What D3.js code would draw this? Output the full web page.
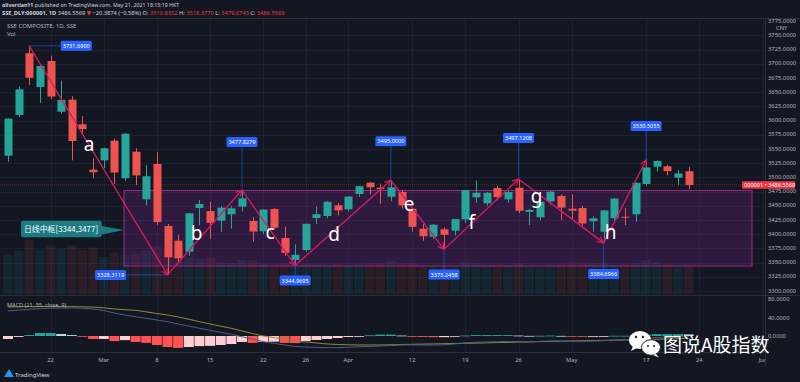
<!DOCTYPE html>
<html><head><meta charset="utf-8">
<script src="https://cdn.jsdelivr.net/npm/d3@7"></script>
<style>html,body{margin:0;padding:0;background:#131722;overflow:hidden}</style>
</head><body><svg id="c" width="800" height="382"></svg>
<script>
// ---------------- data ----------------
const dates = ["2021-02-09","2021-02-10","2021-02-18","2021-02-19","2021-02-22","2021-02-23","2021-02-24","2021-02-25","2021-02-26",
"2021-03-01","2021-03-02","2021-03-03","2021-03-04","2021-03-05","2021-03-08","2021-03-09","2021-03-10","2021-03-11","2021-03-12",
"2021-03-15","2021-03-16","2021-03-17","2021-03-18","2021-03-19","2021-03-22","2021-03-23","2021-03-24","2021-03-25","2021-03-26",
"2021-03-29","2021-03-30","2021-03-31","2021-04-01","2021-04-02","2021-04-06","2021-04-07","2021-04-08","2021-04-09",
"2021-04-12","2021-04-13","2021-04-14","2021-04-15","2021-04-16","2021-04-19","2021-04-20","2021-04-21","2021-04-22","2021-04-23",
"2021-04-26","2021-04-27","2021-04-28","2021-04-29","2021-04-30","2021-05-06","2021-05-07","2021-05-10","2021-05-11","2021-05-12",
"2021-05-13","2021-05-14","2021-05-17","2021-05-18","2021-05-19","2021-05-20","2021-05-21"];
const openP  = [3538.2,3610.0,3718.5,3659.2,3704.9,3615.7,3636.8,3593.5,3513.6,3530.1,3564.6,3498.4,3545.3,3461.4,3523.6,3414.4,3388.6,3369.2,3446.1,
3440.8,3423.8,3435.0,3448.4,3423.2,3405.1,3444.4,3393.3,3354.6,3372.2,3428.5,3432.0,3450.9,3443.8,3470.8,3490.7,3481.9,3466.0,3474.3,
3444.9,3409.7,3395.6,3408.6,3406.2,3426.2,3465.0,3454.4,3481.3,3461.4,3481.9,3439.1,3429.8,3457.9,3467.3,3444.9,3446.1,3422.7,3404.4,3428.0,
3430.8,3435.0,3488.4,3518.8,3519.5,3499.5,3510.84];
const highP  = [3604.0,3659.7,3731.69,3699.0,3714.3,3670.3,3642.8,3608.1,3533.6,3552.5,3568.0,3578.0,3551.2,3521.8,3544.2,3418.0,3398.6,3437.0,3460.0,
3457.2,3450.0,3450.0,3477.83,3430.0,3444.0,3446.0,3413.2,3382.2,3419.0,3448.4,3458.0,3455.0,3467.0,3485.0,3492.0,3489.0,3495.0,3478.0,
3446.0,3418.0,3418.0,3412.0,3427.0,3478.0,3494.2,3474.0,3485.0,3476.0,3497.12,3445.0,3458.0,3476.0,3470.0,3470.8,3450.0,3431.0,3442.0,3464.0,
3446.1,3491.0,3530.51,3530.0,3522.0,3513.0,3518.38];
const lowP   = [3527.6,3606.0,3662.7,3631.0,3638.0,3612.0,3530.1,3574.6,3498.4,3516.0,3488.4,3494.0,3486.6,3451.4,3416.0,3328.31,3352.0,3362.0,3416.2,
3391.5,3404.4,3410.0,3440.0,3386.8,3400.0,3408.0,3362.0,3344.97,3369.0,3418.0,3428.0,3433.0,3440.0,3466.0,3470.0,3453.2,3458.0,3445.0,
3404.4,3388.6,3392.0,3373.25,3398.0,3420.0,3455.0,3450.0,3460.0,3455.0,3437.0,3416.2,3424.0,3452.0,3425.0,3425.0,3415.0,3404.4,3384.70,3424.0,
3416.2,3422.0,3485.0,3510.0,3504.0,3486.6,3479.67];
const closeP = [3603.5,3655.1,3675.4,3696.2,3642.4,3636.4,3564.1,3585.1,3509.1,3551.4,3508.6,3576.9,3503.5,3502.0,3421.4,3359.3,3357.7,3436.8,3453.1,
3420.0,3446.7,3445.6,3463.1,3404.7,3443.4,3411.5,3367.1,3363.6,3418.3,3435.3,3457.1,3441.9,3466.3,3484.4,3482.5,3479.6,3482.6,3450.7,
3413.0,3396.5,3416.6,3399.0,3426.6,3477.6,3472.9,3472.9,3465.1,3474.2,3441.2,3442.6,3457.1,3474.9,3446.9,3441.3,3418.9,3428.0,3441.9,3462.8,
3429.5,3490.4,3517.6,3529.0,3511.0,3506.9,3486.56];
const volume = [380,420,520,430,470,440,470,430,450,360,400,380,390,420,460,430,370,360,340,350,310,300,330,330,290,280,300,290,300,
290,280,290,280,290,300,300,320,300,300,270,270,270,260,310,300,280,280,280,300,270,260,280,290,310,310,300,310,280,290,300,330,310,290,260,280];
const histogram = [-6.5,-2,2,6.5,6.5,4.4,2,-1,-6.5,-6.5,-11,-9,-13,-15,-19.6,-24,-26,-24,-22,-21.5,-19.6,-17.5,-13,-15,-13,-12.5,-15,-15.5,-11,-8.7,
-6.5,-4.4,-2.2,-1,1.5,3,3,1,-1,-2,-2.5,-2.5,-1,1,2,2,2,2,1,0.3,0.5,1,0.3,-0.5,-1,-1,-0.5,0.5,0.5,1.5,3,4,4,4,3.5];
const signalLine = [63.2,63.6,64,64.2,64.3,64.2,64,63.6,63,61.5,58.8,57.3,56,52.7,49,45.8,41.4,36.6,31.2,26.2,21.4,16.8,10.9,5.4,0,-3.3,-6.5,-10.9,-13.1,-15.3,
-17.4,-18.5,-19.2,-19.6,-19.6,-19.6,-19.2,-18.5,-18.1,-17.7,-17.2,-16.8,-16.3,-15.9,-15.5,-15,-14.4,-13.9,-13.3,-12.9,-12.2,-11.8,-11.3,-10.9,-10.5,-10,-9.6,-9.2,-8.7,-8.3,-7.8,-7.2,-6.5,-5.9,-5.2];
const macdLine = [54.5,56.7,58.2,59.5,60.4,61,61,60.4,58.8,55.6,50.1,45.8,42.1,38.6,34.9,31.2,26.2,21.8,16.8,12.4,8.1,3.7,-1.7,-6.5,-12.4,-15.9,-19.6,-22.7,-24,-24.8,
-25.5,-25.3,-24.6,-23.5,-22.7,-21.8,-20.7,-19.6,-19.1,-19.7,-19.7,-19.3,-17.3,-14.9,-13.5,-13,-12.4,-11.9,-12.3,-12.6,-11.7,-10.8,-11,-11.4,-11.5,-11,-10.1,-8.7,-8.2,-6.8,-4.8,-3.2,-2.5,-1.9,-1.7];
const priceTicks = [3300,3325,3350,3375,3400,3425,3450,3475,3500,3525,3550,3575,3600,3625,3650,3675,3700,3725,3750,3775];
const macdTicks = [0,40,80];
const timeTickIdx = [4,9,14,19,24,28,32,38,43,48,53,60,65,71];
const timeTickLabels = ["22","Mar","8","15","22","26","Apr","12","19","26","May","17","24","Jun"];
const pivotIdx = [2,15,22,27,36,41,48,56,60];
const pivotVal = [3731.69,3328.3119,3477.8279,3344.9695,3495.0,3373.2458,3497.1208,3384.6966,3530.5055];
const waveLabels = ["a","b","c","d","e","f","g","h"];
const zoneLow = 3344, zoneHigh = 3477;
const lastPrice = 3486.5569;

// ---------------- layout ----------------
const svg = d3.select("#c");
const BG="#131722", GRID="#1c2030", AX="#b2b5be", UP="#26a69a", DN="#ef5350";
const paneR = 765;
const x = d3.scaleLinear().domain([0,64]).range([8,688.7]);
const y = d3.scaleLinear().domain([3300,3750]).range([291,35.4]);
const yv = d3.scaleLinear().domain([0,600]).range([294,232]);
const ym = d3.scaleLinear().domain([0,80]).range([336,299.3]);
const F = "'Noto Sans','DejaVu Sans',sans-serif";

svg.append("rect").attr("width",800).attr("height",382).attr("fill",BG);
const defs = svg.append("defs");
defs.append("clipPath").attr("id","mainClip").append("rect").attr("x",0).attr("y",18).attr("width",paneR).attr("height",277);
defs.append("clipPath").attr("id","macdClip").append("rect").attr("x",0).attr("y",296).attr("width",paneR).attr("height",56);
defs.append("clipPath").attr("id","timeClip").append("rect").attr("x",0).attr("y",352).attr("width",paneR).attr("height",14);
defs.append("marker").attr("id","arr").attr("viewBox","0 0 10 10").attr("refX",9).attr("refY",5)
  .attr("markerWidth",6).attr("markerHeight",6).attr("orient","auto")
  .append("path").attr("d","M1,1 L9,5 L1,9").attr("fill","none").attr("stroke","#d81b60").attr("stroke-width",1.6);

// header
const hdr = svg.append("g").attr("font-family",F);
const h1 = hdr.append("text").attr("x",2).attr("y",7).attr("font-size",5.25).attr("fill","#d1d4dc");
h1.append("tspan").attr("font-weight","bold").text("olivertian11");
h1.append("tspan").text(" published on TradingView.com, May 21, 2021 18:15:19 HKT");
const h2 = hdr.append("text").attr("x",2).attr("y",15).attr("font-size",5.7).attr("fill","#d1d4dc");
h2.append("tspan").attr("font-weight","bold").text("SSE_DLY:000001, 1D ");
h2.append("tspan").text("3486.5569 ");
h2.append("tspan").attr("fill","#f23645").text("▼");
h2.append("tspan").text(" −20.3874 (−0.58%) O: ");
h2.append("tspan").attr("fill","#f23645").text("3510.8352");
h2.append("tspan").text(" H: ");
h2.append("tspan").attr("fill","#f23645").text("3518.3770");
h2.append("tspan").text(" L: ");
h2.append("tspan").attr("fill","#f23645").text("3479.6743");
h2.append("tspan").text(" C: ");
h2.append("tspan").attr("fill","#f23645").text("3486.5569");
svg.append("line").attr("x1",0).attr("x2",800).attr("y1",18.5).attr("y2",18.5).attr("stroke","#2a2e39");

// grid
const grid = svg.append("g");
grid.selectAll("line.h").data(priceTicks.filter(d=>d<3775)).join("line")
  .attr("x1",0).attr("x2",paneR).attr("y1",d=>Math.round(y(d))+0.5).attr("y2",d=>Math.round(y(d))+0.5).attr("stroke",GRID);
grid.selectAll("line.v").data(timeTickIdx).join("line")
  .attr("x1",d=>Math.round(x(d))+0.5).attr("x2",d=>Math.round(x(d))+0.5).attr("y1",19).attr("y2",352).attr("stroke",GRID);

const main = svg.append("g").attr("clip-path","url(#mainClip)");
// volume
main.selectAll("rect.vol").data(volume).join("rect")
  .attr("x",(d,i)=>x(i)-4.8).attr("width",9.6).attr("y",d=>yv(d)).attr("height",d=>yv(0)-yv(d))
  .attr("fill",(d,i)=>closeP[i]>=openP[i]?"rgba(38,166,154,0.11)":"rgba(239,83,80,0.11)");
// zone
main.append("rect").attr("x",124).attr("width",752-124).attr("y",y(zoneHigh)).attr("height",y(zoneLow)-y(zoneHigh))
  .attr("fill","rgba(156,39,176,0.2)").attr("stroke","#9c2a8a").attr("stroke-width",1);
// last price line
main.append("line").attr("x1",0).attr("x2",paneR).attr("y1",y(lastPrice)).attr("y2",y(lastPrice))
  .attr("stroke","#f23645").attr("stroke-opacity",0.45).attr("stroke-dasharray","1,1");
// candles
const cg = main.append("g");
cg.selectAll("line.w").data(closeP).join("line")
  .attr("x1",(d,i)=>Math.round(x(i))+0.5).attr("x2",(d,i)=>Math.round(x(i))+0.5)
  .attr("y1",(d,i)=>y(highP[i])).attr("y2",(d,i)=>y(lowP[i]))
  .attr("stroke",(d,i)=>d>=openP[i]?UP:DN);
cg.selectAll("rect.b").data(closeP).join("rect")
  .attr("x",(d,i)=>Math.round(x(i))-3.5).attr("width",8)
  .attr("y",(d,i)=>y(Math.max(d,openP[i]))).attr("height",(d,i)=>Math.max(1,Math.abs(y(d)-y(openP[i]))))
  .attr("fill",(d,i)=>d>=openP[i]?UP:DN);

// pivot labels
const pl = main.append("g").attr("font-family",F);
const labelPos = [ {dx:47,dy:0}, {dx:-57,dy:0}, {dx:0,dy:-48}, {dx:0,dy:15},
  {dx:0,dy:-39}, {dx:0,dy:25}, {dx:0,dy:-41}, {dx:0,dy:31}, {dx:0,dy:-34} ];
pivotIdx.forEach((pi,k)=>{
  const px = x(pi), py = y(pivotVal[k]); const L = labelPos[k];
  const bx = px + L.dx, by = py + L.dy;
  pl.append("line").attr("x1",px).attr("y1",py).attr("x2",bx).attr("y2",by).attr("stroke","#2962ff").attr("stroke-opacity",0.55);
  pl.append("rect").attr("x",bx-15.5).attr("y",by-5).attr("width",31).attr("height",10).attr("rx",1.5).attr("fill","#2962ff");
  pl.append("text").attr("x",bx).attr("y",by+2.2).attr("text-anchor","middle").attr("font-size",5.6).attr("fill","#fff")
    .text(pivotVal[k].toFixed(4));
});
// zigzag arrows
const zz = main.append("g");
for(let k=0;k<pivotIdx.length-1;k++){
  zz.append("line").attr("x1",x(pivotIdx[k])).attr("y1",y(pivotVal[k])).attr("x2",x(pivotIdx[k+1])).attr("y2",y(pivotVal[k+1]))
    .attr("stroke","#d81b60").attr("stroke-width",1.3).attr("marker-end","url(#arr)");
}
// wave letters
const wavePos = [[89,145],[196.5,234],[270,233],[334,235],[409,205],[471.7,223],[536.7,197],[610.7,233]];
main.selectAll("text.w").data(waveLabels).join("text")
  .attr("x",(d,i)=>wavePos[i][0]).attr("y",(d,i)=>wavePos[i][1]+6).attr("text-anchor","middle")
  .attr("font-family",F).attr("font-size",19).attr("fill","#fff").text(d=>d);
// callout
const co = main.append("g");
co.append("path").attr("d","M23,220.7 H99.7 Q101.7,220.7 101.7,222.7 L101.7,226 L124,230 L101.7,234.5 L101.7,235.3 Q101.7,237.3 99.7,237.3 H23 Q21,237.3 21,235.3 V222.7 Q21,220.7 23,220.7 Z")
  .attr("fill","#1c7a83");
co.append("text").attr("x",61).attr("y",231.8).attr("text-anchor","middle").attr("font-family","'Noto Sans CJK SC',sans-serif")
  .attr("font-size",7.9).attr("fill","#fff").text("日线中枢[3344,3477]");

// legends
svg.append("text").attr("x",7).attr("y",28).attr("font-family",F).attr("font-size",6).attr("fill",AX).text("SSE COMPOSITE, 1D, SSE");
svg.append("text").attr("x",7).attr("y",36).attr("font-family",F).attr("font-size",6).attr("fill",AX).text("Vol");

// MACD pane
svg.append("line").attr("x1",0).attr("x2",800).attr("y1",295.5).attr("y2",295.5).attr("stroke","#2a2e39");
const mg = svg.append("g").attr("clip-path","url(#macdClip)");
mg.selectAll("rect.h").data(histogram).join("rect")
  .attr("x",(d,i)=>x(i)-5).attr("width",10)
  .attr("y",d=>Math.min(ym(d),ym(0))).attr("height",d=>Math.max(0.8,Math.abs(ym(d)-ym(0))))
  .attr("fill",(d,i)=>{const p=i>0?histogram[i-1]:d; return d>=0?(d>=p?"#26a69a":"#b2dfdb"):(d<p?"#ff5252":"#ffcdd2");});
const lineGen = d3.line().x((d,i)=>x(i)).y(d=>ym(d)).curve(d3.curveMonotoneX);
mg.append("path").datum(signalLine).attr("d",lineGen).attr("fill","none").attr("stroke","#8f8a3a").attr("stroke-width",1);
mg.append("path").datum(macdLine).attr("d",lineGen).attr("fill","none").attr("stroke","#4f5d86").attr("stroke-width",1);
svg.append("text").attr("x",7).attr("y",307).attr("font-family",F).attr("font-size",5.6).attr("fill",AX).text("MACD (21, 55, close, 9)");

// price axis
svg.append("line").attr("x1",paneR+0.5).attr("x2",paneR+0.5).attr("y1",19).attr("y2",366).attr("stroke","#2a2e39");
const pa = svg.append("g").attr("font-family",F).attr("font-size",5.8).attr("fill",AX);
pa.selectAll("text.p").data(priceTicks).join("text").attr("x",768).attr("y",d=>y(d)+1.6).text(d=>d.toFixed(4));
pa.append("rect").attr("x",767).attr("y",24.6).attr("width",30).attr("height",6).attr("fill",BG);
pa.append("text").attr("x",776).attr("y",30).text("CNY");
pa.selectAll("text.m").data(macdTicks).join("text").attr("x",768).attr("y",d=>ym(d)+2).text(d=>d.toFixed(4));
// last price tag
svg.append("rect").attr("x",742).attr("y",y(lastPrice)-3.8).attr("width",53).attr("height",7.6).attr("rx",1).attr("fill","#f23645");
svg.append("text").attr("x",744).attr("y",y(lastPrice)+2).attr("font-family",F).attr("font-size",5.6).attr("fill","#fff").text("000001 • 3486.5569");

// time axis
svg.append("line").attr("x1",0).attr("x2",paneR).attr("y1",352.5).attr("y2",352.5).attr("stroke","#2a2e39");
const ta = svg.append("g").attr("clip-path","url(#timeClip)").attr("font-family",F).attr("font-size",5.8).attr("fill",AX);
ta.selectAll("text").data(timeTickIdx).join("text").attr("x",d=>x(d)).attr("y",361.5).attr("text-anchor","middle").text((d,i)=>timeTickLabels[i]);

// TradingView logo
const tv = svg.append("g");
tv.append("path").attr("d","M4,377 L9,369 L14,377 Z").attr("fill","#2196f3");
tv.append("text").attr("x",15).attr("y",376.5).attr("font-family",F).attr("font-size",6).attr("fill","#d1d4dc").text("TradingView");

// watermark
const wm = svg.append("g");
wm.append("ellipse").attr("cx",640).attr("cy",340).attr("rx",11).attr("ry",9).attr("fill","#fff");
wm.append("path").attr("d","M633,346 L631,351 L637,348 Z").attr("fill","#fff");
wm.append("circle").attr("cx",636).attr("cy",337).attr("r",1.3).attr("fill","#333");
wm.append("circle").attr("cx",643).attr("cy",337).attr("r",1.3).attr("fill","#333");
wm.append("ellipse").attr("cx",651).attr("cy",347.5).attr("rx",9.5).attr("ry",7.8).attr("fill","#fff").attr("stroke","#222").attr("stroke-width",1);
wm.append("path").attr("d","M656,354 L659,357.5 L653,355 Z").attr("fill","#fff");
wm.append("circle").attr("cx",648).attr("cy",346).attr("r",1.1).attr("fill","#333");
wm.append("circle").attr("cx",654).attr("cy",346).attr("r",1.1).attr("fill","#333");
wm.append("text").attr("x",663).attr("y",352).attr("font-family","'Noto Sans CJK SC',sans-serif").attr("font-size",19)
  .attr("fill","#fff").text("图说A股指数");
</script></body></html>
